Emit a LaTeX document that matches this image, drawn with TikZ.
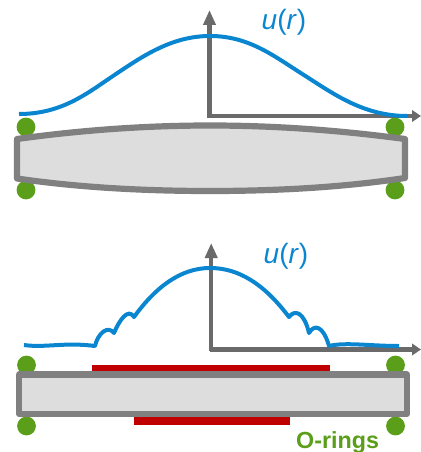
\documentclass[tikz,border=0pt]{standalone}
\usepackage{fontspec}
\setmainfont{Liberation Sans}
\usetikzlibrary{arrows.meta}
\definecolor{axisgray}{HTML}{6A6A6A}
\definecolor{plategray}{HTML}{808080}
\definecolor{platefill}{HTML}{DDDDDD}
\definecolor{curveblue}{HTML}{0A86D0}
\definecolor{ringgreen}{HTML}{5A9E1A}
\definecolor{barred}{HTML}{C00000}
\tikzset{
  vaxis/.style={draw=axisgray,line width=4.2pt,-{Triangle[length=15pt,width=12pt]}},
  haxis/.style={draw=axisgray,line width=4.2pt,-{Triangle[length=9pt,width=11.5pt]}},
  curve/.style={draw=curveblue,line width=4pt,line join=round},
  plate/.style={draw=plategray,fill=platefill,line width=6.2pt,line join=round},
  ring/.style={circle,fill=ringgreen,minimum size=18.8pt,inner sep=0pt,outer sep=0pt},
  bar/.style={fill=barred},
  ulabel/.style={text=curveblue,font=\fontsize{28}{30}\selectfont,anchor=base west,inner sep=0pt},
  ringlabel/.style={text=ringgreen,font=\fontsize{23.3}{25}\selectfont\bfseries,anchor=base west,inner sep=0pt}
}
\begin{document}
\begin{tikzpicture}[x=1pt,y=-1pt]
\useasboundingbox (0,0) rectangle (420,452);
% --- top panel
\node[ring] (r1) at (26,127) {};
\node[ring] (r2) at (395,127) {};
\node[ring] (r3) at (26,190) {};
\node[ring] (r4) at (395,190) {};
\draw[plate] (17,139) .. controls (75,131) and (140,125.5) .. (210,125.5)
   .. controls (280,125.5) and (345,131) .. (405,139) -- (405,178)
   .. controls (345,187) and (280,191) .. (210,191)
   .. controls (140,191) and (75,187) .. (17,178.5) -- cycle;
\coordinate (ax0) at (209.5,118);
\coordinate (axy) at (209.5,10);
\coordinate (o1) at (207.5,116);
\coordinate (axx) at (421,116);
\draw[vaxis] (ax0) -- (axy);
\draw[haxis] (o1) -- (axx);
\draw[curve] (19,114) .. controls (60,114) and (85,95) .. (110,78)
   .. controls (140,58) and (170,36) .. (210,36)
   .. controls (250,36) and (275,57) .. (307,77)
   .. controls (335,95) and (365,116) .. (407,116);
\node[ulabel] (u1) at (261.5,30) {\textit{u}(\textit{r})};
% --- bottom panel
\node[ring] (r5) at (26.5,365) {};
\node[ring] (r6) at (395.5,365) {};
\node[ring] (r7) at (26.5,426) {};
\node[ring] (r8) at (395.5,426) {};
\fill[bar] (92,364.5) rectangle (330,375);
\fill[bar] (134,415) rectangle (290,425);
\draw[plate] (19.3,374.5) rectangle (407,414);
\coordinate (bx0) at (211.2,351);
\coordinate (bxy) at (211.2,243);
\coordinate (o2) at (209.5,349.5);
\coordinate (bxx) at (421,349.5);
\draw[vaxis] (bx0) -- (bxy);
\draw[haxis] (o2) -- (bxx);
\draw[curve] (24,345) .. controls (45,348) and (65,342) .. (95,346)
  .. controls (98,333) and (108,325) .. (114,333)
  .. controls (119,321) and (128,307) .. (134,317)
  .. controls (155,288) and (180,268) .. (210,268)
  .. controls (245,268) and (270,292) .. (289,317)
  .. controls (295,309) and (304,312) .. (309,333)
  .. controls (314,324) and (323,325) .. (329,346)
  .. controls (345,342) and (370,346) .. (399,346);
\node[ulabel] (u2) at (263.5,263) {\textit{u}(\textit{r})};
\node[ringlabel] (ol) at (296,448.5) {O-rings};
\end{tikzpicture}
\end{document}
